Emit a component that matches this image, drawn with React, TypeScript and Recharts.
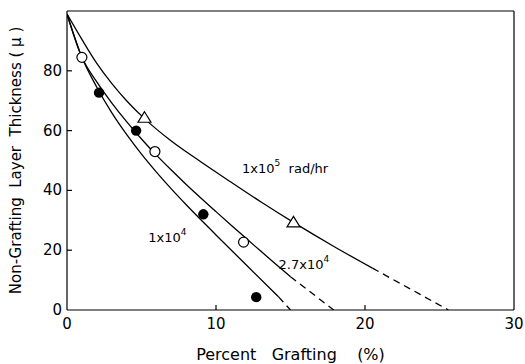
import React from "react";
import { ComposedChart, Line, Scatter, XAxis, YAxis, ReferenceLine, ReferenceDot } from "recharts";

const xTicks = [0, 10, 20, 30];
const yTicks = [0, 20, 40, 60, 80];

// 1x10^5 rad/hr curve (solid part, then dashed extrapolation)
const highX = [0, 1, 2, 3, 4, 5.2, 7, 9, 11, 13, 15.2, 18, 20.5];
const highY = [99, 90.5, 82.5, 75.8, 70, 64, 56.5, 49.5, 42.8, 36.2, 29.3, 21, 14];
const highDashX = [20.5, 25.6];
const highDashY = [14, 0];

// 2.7x10^4 rad/hr curve
const midX = [0, 1, 2, 3, 4, 5, 6, 7, 8, 9, 10, 11, 12, 13, 14, 15];
const midY = [99, 84.5, 76.3, 69.3, 63, 57.2, 51.8, 46.8, 42, 37.4, 32.9, 28.45, 24.05, 19.7, 15.4, 11.15];
const midDashX = [15, 17.9];
const midDashY = [11.15, 0];

// 1x10^4 rad/hr curve
const lowX = [0, 1, 2, 3, 4, 5, 6, 7, 8, 9, 10, 12, 14.2];
const lowY = [99, 84.5, 74.5, 66, 58.7, 52.1, 46.1, 40.5, 35.2, 30.1, 25.1, 15.2, 4.4];
const lowDashX = [14.2, 15];
const lowDashY = [4.4, 0];

// measured points
const openX = [1, 5.9, 11.85];
const openY = [84.5, 53, 22.7];
const filledX = [2.15, 4.64, 9.15, 12.7];
const filledY = [72.7, 60, 32, 4.3];
const triX = [5.2, 15.2];
const triY = [64.3, 29.3];

const pts = (xs: number[], ys: number[]) => xs.map((x, i) => ({ x, y: ys[i] }));

const FONT = "DejaVu Sans";

const OpenCircle = (p: any) => (
  <circle cx={p.cx} cy={p.cy} r={5} fill="#fff" stroke="#000" strokeWidth={1.2} />
);
const FilledCircle = (p: any) => <circle cx={p.cx} cy={p.cy} r={5.2} fill="#000" />;
const Triangle = (p: any) => (
  <path
    d={`M${p.cx},${p.cy - 6} L${p.cx + 6.5},${p.cy + 4.5} L${p.cx - 6.5},${p.cy + 4.5} Z`}
    fill="#fff"
    stroke="#000"
    strokeWidth={1.2}
  />
);

const XTick = ({ x, y, payload }: any) => (
  <g>
    {payload.value > 0 && payload.value < 30 ? <line x1={x} y1={y} x2={x} y2={y - 5} stroke="#000" strokeWidth={1.2} /> : null}
    <text x={x} y={y + 14} textAnchor="middle" dominantBaseline="central" fontSize={15} fontFamily={FONT} fill="#000">
      {payload.value}
    </text>
  </g>
);

const YTick = ({ x, y, payload }: any) => (
  <g>
    {payload.value > 0 ? <line x1={x} y1={y} x2={x + 5} y2={y} stroke="#000" strokeWidth={1.2} /> : null}
    <text x={x - 5} y={y} textAnchor="end" dominantBaseline="central" fontSize={15} fontFamily={FONT} fill="#000">
      {payload.value}
    </text>
  </g>
);

const Anno = ({ cx, cy, base, sup, tail }: any) => (
  <text x={cx} y={cy} fontSize={13} fontFamily={FONT} fill="#000" dominantBaseline="middle" style={{ whiteSpace: "pre" }}>
    {base}
    <tspan dy={-6} fontSize={9}>{sup}</tspan>
    {tail ? <tspan dy={6}>{tail}</tspan> : null}
  </text>
);

export default function App() {
  const line = { stroke: "#000", strokeWidth: 1.3, dot: false, isAnimationActive: false, legendType: "none" as const };
  return (
    <div style={{ position: "absolute", left: 0, top: 0, background: "#fff" }}>
      <ComposedChart width={525} height={364} margin={{ top: 11, right: 11, left: 0, bottom: 0 }}>
        <XAxis
          dataKey="x"
          type="number"
          domain={[0, 30]}
          ticks={xTicks}
          allowDataOverflow
          height={54}
          stroke="#000"
          strokeWidth={1.2}
          tickLine={false}
          tickSize={0}
          tickMargin={0}
          tick={<XTick />}
          label={{
            content: (props: any) => {
              const vb = props.viewBox;
              return (
                <text x={vb.x + vb.width / 2} y={vb.y + 45} textAnchor="middle" dominantBaseline="middle" fontSize={16} fontFamily={FONT} fill="#000" style={{ whiteSpace: "pre" }}>
                  {"Percent   Grafting    (%)"}
                </text>
              );
            },
          }}
        />
        <YAxis
          dataKey="y"
          type="number"
          domain={[0, 100]}
          ticks={yTicks}
          allowDataOverflow
          width={67}
          stroke="#000"
          strokeWidth={1.2}
          tickLine={false}
          tickSize={0}
          tickMargin={0}
          tick={<YTick />}
          label={{
            content: (props: any) => {
              const vb = props.viewBox;
              const cy = vb.y + vb.height / 2;
              return (
                <text x={16} y={cy} transform={`rotate(-90 16 ${cy})`} textAnchor="middle" dominantBaseline="middle" fontSize={15} fontFamily={FONT} fill="#000" style={{ whiteSpace: "pre" }}>
                  {"Non-Grafting  Layer  Thickness ( \u03bc )"}
                </text>
              );
            },
          }}
        />
        <ReferenceLine y={100} stroke="#000" strokeWidth={1.2} />
        <ReferenceLine x={30} stroke="#000" strokeWidth={1.2} />

        <Line data={pts(highX, highY)} dataKey="y" type="monotone" {...line} />
        <Line data={pts(highDashX, highDashY)} dataKey="y" type="linear" strokeDasharray="7 5" {...line} />
        <Line data={pts(midX, midY)} dataKey="y" type="monotone" {...line} />
        <Line data={pts(midDashX, midDashY)} dataKey="y" type="linear" strokeDasharray="7 5" {...line} />
        <Line data={pts(lowX, lowY)} dataKey="y" type="monotone" {...line} />
        <Line data={pts(lowDashX, lowDashY)} dataKey="y" type="linear" strokeDasharray="7 5" {...line} />

        <Scatter data={pts(openX, openY)} dataKey="y" shape={OpenCircle} isAnimationActive={false} />
        <Scatter data={pts(filledX, filledY)} dataKey="y" shape={FilledCircle} isAnimationActive={false} />
        <Scatter data={pts(triX, triY)} dataKey="y" shape={Triangle} isAnimationActive={false} />

        <ReferenceDot x={11.75} y={47} r={0} shape={(p: any) => <Anno cx={p.cx} cy={p.cy} base="1x10" sup="5" tail="  rad/hr" />} />
        <ReferenceDot x={14.2} y={15} r={0} shape={(p: any) => <Anno cx={p.cx} cy={p.cy} base="2.7x10" sup="4" />} />
        <ReferenceDot x={5.45} y={24} r={0} shape={(p: any) => <Anno cx={p.cx} cy={p.cy} base="1x10" sup="4" />} />
      </ComposedChart>
    </div>
  );
}
